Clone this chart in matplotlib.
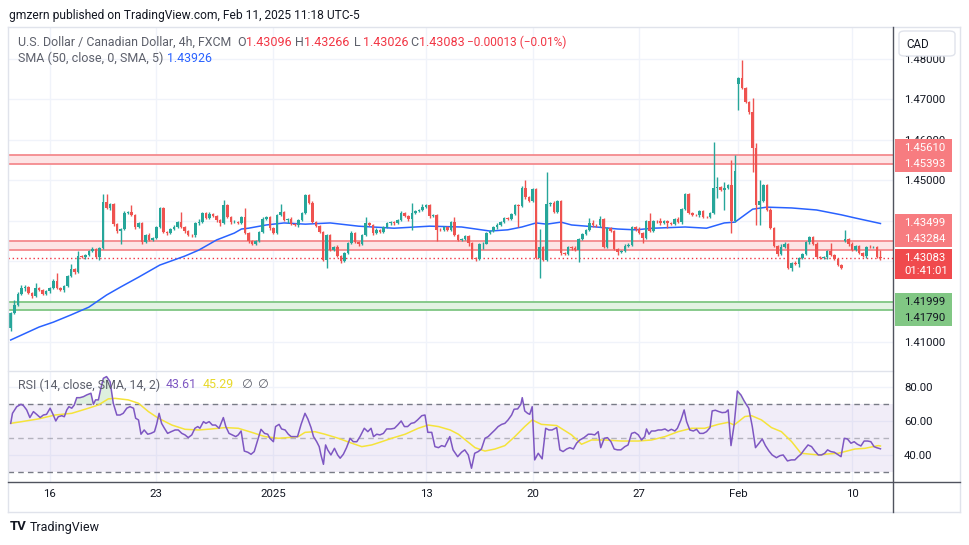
import matplotlib
matplotlib.use('Agg')

import matplotlib.pyplot as plt
from matplotlib.patches import Rectangle, FancyBboxPatch
from matplotlib.lines import Line2D
from matplotlib.transforms import Bbox

W, H = 970, 545

# 4h USD/CAD candles, one entry per bar
first_open = 1.4135
closes = [
    1.4172, 1.4191, 1.4218, 1.4233, 1.4236, 1.4221, 1.4213, 1.4233, 1.4228, 1.4218,
    1.4226, 1.4233, 1.4251, 1.4233, 1.4228, 1.4238, 1.4263, 1.4280, 1.4273, 1.4312,
    1.4310, 1.4315, 1.4325, 1.4330, 1.4310, 1.4332, 1.4446, 1.4431, 1.4441, 1.4391,
    1.4374, 1.4379, 1.4419, 1.4421, 1.4414, 1.4384, 1.4394, 1.4347, 1.4364, 1.4352,
    1.4357, 1.4384, 1.4431, 1.4372, 1.4369, 1.4379, 1.4384, 1.4396, 1.4384, 1.4374,
    1.4364, 1.4363, 1.4394, 1.4396, 1.4419, 1.4406, 1.4416, 1.4411, 1.4401, 1.4394,
    1.4438, 1.4409, 1.4396, 1.4397, 1.4394, 1.4409, 1.4369, 1.4349, 1.4342, 1.4349,
    1.4372, 1.4404, 1.4409, 1.4381, 1.4369, 1.4414, 1.4421, 1.4401, 1.4404, 1.4391,
    1.4389, 1.4401, 1.4419, 1.4463, 1.4443, 1.4396, 1.4386, 1.4372, 1.4302, 1.4364,
    1.4327, 1.4335, 1.4312, 1.4300, 1.4320, 1.4344, 1.4369, 1.4347, 1.4342, 1.4364,
    1.4394, 1.4389, 1.4369, 1.4377, 1.4372, 1.4384, 1.4394, 1.4396, 1.4393, 1.4401,
    1.4419, 1.4411, 1.4404, 1.4418, 1.4423, 1.4426, 1.4433, 1.4438, 1.4411, 1.4414,
    1.4377, 1.4376, 1.4384, 1.4377, 1.4396, 1.4364, 1.4352, 1.4354, 1.4362, 1.4344,
    1.4307, 1.4305, 1.4342, 1.4343, 1.4369, 1.4374, 1.4384, 1.4389, 1.4396, 1.4406,
    1.4404, 1.4416, 1.4438, 1.4437, 1.4480, 1.4458, 1.4448, 1.4478, 1.4307, 1.4335,
    1.4302, 1.4441, 1.4443, 1.4421, 1.4448, 1.4320, 1.4317, 1.4335, 1.4332, 1.4327,
    1.4354, 1.4367, 1.4377, 1.4394, 1.4389, 1.4388, 1.4404, 1.4335, 1.4381, 1.4374,
    1.4330, 1.4322, 1.4325, 1.4337, 1.4340, 1.4384, 1.4379, 1.4369, 1.4357, 1.4399,
    1.4374, 1.4399, 1.4398, 1.4394, 1.4399, 1.4394, 1.4391, 1.4404, 1.4396, 1.4428,
    1.4465, 1.4419, 1.4414, 1.4413, 1.4423, 1.4409, 1.4408, 1.4419, 1.4480, 1.4483,
    1.4475, 1.4480, 1.4488, 1.4399, 1.4522, 1.4752, 1.4727, 1.4693, 1.4668, 1.4579,
    1.4438, 1.4448, 1.4488, 1.4426, 1.4381, 1.4337, 1.4317, 1.4335, 1.4342, 1.4283,
    1.4295, 1.4293, 1.4307, 1.4317, 1.4347, 1.4359, 1.4342, 1.4310, 1.4307, 1.4309,
    1.4325, 1.4315, 1.4305, 1.4290, 1.4283, 1.4354, 1.4342, 1.4327, 1.4337, 1.4320,
    1.4312, 1.4335, 1.4334, 1.4335, 1.43096, 1.43083,
]
# bars that opened after a weekend gap (index: open)
gap_opens = {205: 1.4737, 235: 1.4349}
# wick length above / below the body, in pips
wick_up = [
    3, 12, 5, 8, 6, 3, 3, 12, 3, 3,
    2, 3, 4, 20, 3, 4, 3, 13, 3, 12,
    3, 2, 3, 5, 3, 3, 20, 20, 3, 3,
    3, 2, 4, 3, 18, 3, 3, 2, 3, 4,
    3, 3, 3, 2, 3, 3, 4, 3, 25, 3,
    3, 2, 3, 8, 3, 3, 4, 3, 3, 2,
    12, 3, 3, 4, 3, 3, 23, 3, 2, 3,
    3, 4, 3, 3, 2, 3, 20, 3, 3, 4,
    3, 3, 2, 3, 3, 4, 3, 3, 3, 2,
    3, 3, 4, 3, 3, 3, 5, 3, 2, 3,
    15, 3, 3, 4, 3, 3, 2, 3, 3, 3,
    4, 3, 3, 25, 3, 3, 8, 3, 2, 3,
    3, 4, 3, 3, 3, 12, 3, 2, 3, 3,
    4, 3, 3, 3, 2, 3, 3, 4, 3, 3,
    3, 2, 3, 3, 4, 20, 3, 3, 3, 45,
    3, 79, 3, 4, 3, 3, 2, 3, 3, 4,
    3, 3, 2, 12, 8, 3, 8, 3, 3, 4,
    3, 3, 2, 5, 5, 3, 3, 4, 3, 3,
    20, 3, 3, 8, 3, 2, 3, 3, 4, 3,
    3, 3, 2, 3, 4, 3, 3, 3, 113, 25,
    3, 15, 3, 62, 40, 3, 44, 3, 3, 35,
    12, 52, 3, 3, 4, 3, 2, 8, 5, 3,
    3, 4, 3, 3, 2, 3, 3, 4, 3, 3,
    3, 20, 3, 2, 3, 22, 3, 4, 3, 3,
    2, 3, 4, 3, 3, 17,
]
wick_dn = [
    8, 3, 3, 3, 6, 3, 4, 3, 2, 3,
    3, 4, 3, 3, 2, 5, 3, 3, 4, 3,
    3, 5, 3, 2, 3, 8, 3, 3, 4, 5,
    5, 31, 3, 3, 2, 5, 3, 4, 3, 3,
    2, 3, 3, 4, 5, 3, 3, 2, 3, 5,
    3, 4, 3, 5, 3, 2, 3, 3, 5, 8,
    3, 3, 4, 3, 2, 3, 3, 4, 3, 3,
    2, 3, 3, 4, 3, 3, 2, 3, 8, 3,
    3, 4, 3, 3, 2, 3, 3, 4, 3, 20,
    3, 2, 3, 4, 3, 3, 3, 2, 4, 3,
    3, 3, 4, 2, 3, 3, 3, 4, 3, 2,
    3, 3, 4, 27, 3, 2, 3, 3, 4, 3,
    27, 3, 2, 3, 4, 3, 3, 3, 2, 8,
    3, 4, 3, 12, 2, 3, 3, 4, 3, 3,
    2, 3, 3, 52, 3, 4, 3, 2, 3, 49,
    3, 3, 4, 3, 2, 5, 3, 3, 4, 3,
    30, 3, 2, 3, 4, 3, 3, 3, 2, 3,
    4, 8, 3, 3, 2, 3, 4, 3, 12, 3,
    3, 2, 3, 4, 3, 12, 3, 2, 3, 4,
    3, 3, 2, 3, 4, 3, 3, 2, 3, 25,
    3, 50, 3, 30, 3, 64, 3, 3, 4, 59,
    49, 49, 3, 3, 2, 3, 4, 3, 3, 3,
    8, 3, 8, 2, 3, 4, 3, 3, 2, 3,
    4, 3, 3, 2, 3, 3, 4, 3, 3, 2,
    3, 4, 3, 3, 2, 6,
]

# SMA(50) line, (bar, price)
sma50 = [
    (0, 1.4105), (3, 1.4117), (8, 1.4137), (12, 1.4149), (17, 1.4167), (22, 1.4186),
    (27, 1.4216), (31, 1.4236), (36, 1.4260), (42, 1.4290), (49, 1.4312), (53, 1.4327),
    (58, 1.4352), (63, 1.4369), (65, 1.4379), (67, 1.4381), (72, 1.4389), (77, 1.4394),
    (83, 1.4391), (90, 1.4394), (98, 1.4386), (108, 1.4381), (118, 1.4386), (127, 1.4384),
    (135, 1.4374), (140, 1.4377), (144, 1.4384), (148, 1.4394), (151, 1.4391), (155, 1.4396),
    (158, 1.4389), (165, 1.4384), (171, 1.4379), (176, 1.4377), (181, 1.4381), (190, 1.4384),
    (196, 1.4381), (201, 1.4394), (204, 1.4396), (209, 1.4428), (213, 1.4433), (220, 1.4431),
    (227, 1.4426), (234, 1.4414), (238, 1.4406), (245, 1.43926),
]

# RSI(14), (bar, value)
rsi14 = [
    (0, 58.6), (0.5, 64.5), (1.7, 68.4), (2.9, 69.8), (3.6, 69.0), (4.5, 66.5), (5.4, 62.0),
    (6.4, 65.5), (7.3, 63.9), (8.3, 62.0), (9.2, 63.5), (10.1, 63.9), (11.1, 67.5), (12.0, 63.5),
    (12.7, 60.0), (13.4, 62.5), (14.4, 63.1), (15.1, 62.5), (15.8, 66.5), (16.4, 68.4), (17.2, 67.5),
    (17.9, 69.4), (18.6, 73.7), (19.5, 73.7), (20.5, 74.3), (21.4, 75.3), (22.6, 76.3), (23.3, 69.8),
    (23.9, 72.4), (24.7, 72.4), (25.4, 79.2), (26.1, 85.1), (27.0, 86.1), (28.0, 83.1), (28.9, 70.4),
    (29.9, 63.5), (30.8, 63.5), (31.7, 64.5), (32.7, 67.5), (33.6, 68.4), (34.6, 67.5), (35.2, 61.6),
    (36.0, 60.6), (36.7, 52.2), (37.6, 54.7), (38.6, 52.2), (39.5, 52.7), (40.5, 53.7), (41.1, 58.0),
    (41.8, 64.5), (42.5, 58.6), (43.3, 55.7), (44.2, 52.7), (45.2, 53.7), (46.3, 54.7), (47.2, 54.7),
    (48.2, 52.7), (49.1, 51.8), (50.0, 50.2), (51.0, 51.8), (51.9, 55.7), (52.7, 56.7), (53.3, 55.7),
    (54.3, 59.6), (55.0, 58.6), (55.9, 59.6), (56.8, 57.6), (57.7, 57.6), (58.7, 55.7), (59.9, 62.0),
    (60.6, 56.7), (61.5, 52.7), (62.4, 51.8), (63.4, 50.8), (64.1, 51.8), (64.9, 54.1), (65.8, 42.3),
    (66.8, 41.6), (67.7, 40.4), (68.6, 42.0), (69.6, 48.8), (70.5, 55.1), (71.5, 52.7), (72.4, 52.2),
    (73.0, 49.8), (74.0, 47.8), (74.6, 56.7), (75.6, 58.0), (76.3, 55.3), (77.3, 54.7), (78.2, 52.2),
    (79.0, 50.8), (79.9, 50.8), (80.8, 50.8), (81.8, 58.0), (82.4, 61.6), (82.9, 64.5), (83.7, 61.2),
    (84.6, 56.1), (85.3, 50.8), (86.2, 47.8), (86.9, 44.9), (87.4, 40.0), (88.1, 34.5), (88.7, 45.9),
    (89.3, 43.0), (90.2, 40.0), (91.2, 43.9), (92.1, 40.0), (92.8, 38.1), (93.7, 40.4), (94.6, 44.3),
    (95.6, 49.8), (96.5, 47.8), (97.5, 47.8), (98.4, 50.8), (99.6, 55.7), (100.6, 53.7), (101.5, 55.7),
    (102.2, 50.8), (103.1, 52.2), (104.0, 51.8), (105.0, 52.7), (105.9, 55.3), (107.1, 55.3),
    (108.1, 55.7), (109.0, 57.6), (110.0, 60.0), (110.9, 56.7), (111.8, 56.7), (112.8, 58.6),
    (113.7, 59.0), (114.6, 60.6), (115.8, 63.1), (116.7, 63.5), (117.5, 53.3), (118.6, 53.3),
    (119.5, 44.9), (120.5, 44.3), (121.4, 45.5), (122.3, 44.9), (123.7, 50.8), (124.6, 43.0),
    (125.9, 39.0), (127.0, 41.6), (127.9, 43.0), (128.9, 40.0), (129.8, 32.2), (130.7, 41.0),
    (131.7, 42.0), (132.6, 43.5), (133.6, 49.8), (134.5, 50.8), (135.4, 52.7), (136.4, 54.7),
    (137.3, 56.7), (138.3, 58.0), (139.2, 58.6), (140.1, 60.6), (141.1, 63.5), (141.8, 66.9),
    (142.8, 67.1), (143.7, 69.8), (144.1, 73.7), (144.8, 65.9), (145.6, 64.5), (146.2, 63.9),
    (146.9, 68.4), (147.6, 37.1), (148.6, 41.0), (149.7, 37.7), (150.7, 55.7), (151.6, 54.7),
    (152.5, 54.7), (153.8, 56.1), (154.7, 43.0), (155.6, 42.0), (156.6, 43.5), (157.5, 44.3),
    (158.5, 43.5), (159.4, 46.9), (160.3, 48.8), (161.5, 50.2), (162.7, 52.2), (163.6, 52.2),
    (164.5, 51.8), (165.5, 53.7), (166.2, 44.3), (167.2, 49.8), (168.1, 50.2), (169.1, 47.8),
    (170.0, 43.5), (170.9, 43.0), (171.9, 43.0), (173.0, 44.9), (173.9, 45.9), (174.9, 52.7),
    (175.8, 53.3), (176.8, 51.8), (177.7, 48.8), (178.6, 50.8), (179.1, 55.3), (179.8, 52.2),
    (180.5, 54.1), (181.5, 54.1), (182.4, 54.7), (183.3, 54.7), (184.3, 55.3), (185.2, 54.1),
    (186.1, 55.1), (187.1, 54.1), (187.8, 55.7), (188.8, 60.6), (189.7, 66.5), (190.4, 59.6),
    (191.3, 54.7), (192.3, 54.1), (193.2, 55.1), (194.1, 52.7), (195.1, 52.7), (196.0, 53.7),
    (197.0, 56.1), (197.6, 65.9), (198.5, 66.3), (199.5, 65.5), (200.4, 64.9), (201.4, 65.1),
    (202.1, 66.5), (202.9, 45.5), (203.8, 58.0), (204.7, 77.6), (205.7, 75.3), (206.6, 71.8),
    (207.3, 69.4), (207.9, 67.5), (208.9, 56.7), (209.8, 44.3), (210.8, 46.9), (211.7, 49.4),
    (212.6, 45.5), (213.6, 42.3), (214.5, 40.0), (215.7, 38.4), (216.7, 39.6), (217.6, 40.0),
    (218.8, 36.5), (219.9, 37.1), (220.9, 37.1), (221.8, 39.0), (222.6, 40.4), (223.5, 43.0),
    (224.6, 45.9), (225.6, 44.9), (226.5, 42.3), (227.5, 40.0), (228.4, 40.0), (229.3, 41.0),
    (230.1, 43.0), (231.0, 42.0), (232.0, 41.6), (232.9, 40.4), (233.9, 39.0), (234.8, 49.8),
    (235.7, 49.4), (236.7, 46.9), (237.6, 47.8), (238.5, 46.3), (239.5, 45.3), (240.4, 48.2),
    (241.4, 48.2), (242.3, 47.8), (243.2, 44.9), (243.9, 44.3), (244.6, 43.9), (245, 43.61),
]

# SMA(14) of the RSI
rsi_ma = [
    (0, 58.6), (3.1, 59.6), (7.8, 61.2), (12.5, 63.5), (17.2, 64.5), (21.9, 67.5), (24.7, 69.4),
    (27.5, 73.0), (29.4, 73.3), (33.1, 72.4), (36.0, 70.4), (38.8, 65.5), (41.6, 61.6), (45.4, 57.6),
    (49.1, 55.1), (52.9, 54.7), (56.6, 55.3), (60.4, 56.1), (64.1, 55.7), (67.9, 53.3), (71.6, 50.8),
    (75.4, 49.8), (79.2, 50.4), (81.0, 50.8), (82.9, 53.3), (85.7, 53.7), (88.5, 52.2), (92.3, 49.8),
    (96.1, 46.9), (98.9, 44.9), (101.7, 45.9), (104.5, 47.8), (107.3, 49.8), (111.1, 52.2),
    (114.8, 55.7), (117.6, 57.6), (120.5, 56.7), (123.8, 54.7), (126.1, 52.2), (130.8, 44.3),
    (133.6, 42.3), (136.4, 43.5), (139.2, 45.5), (142.0, 50.8), (144.8, 56.7), (146.9, 60.6),
    (149.5, 58.0), (153.8, 57.3), (158.0, 51.8), (160.8, 46.3), (163.6, 48.8), (167.4, 48.8),
    (172.1, 48.2), (176.8, 48.2), (180.5, 48.8), (184.3, 50.8), (188.0, 53.7), (191.8, 55.7),
    (195.5, 55.7), (199.3, 58.0), (202.1, 59.2), (203.8, 57.6), (206.8, 62.6), (208.7, 63.1),
    (211.5, 60.6), (214.3, 56.1), (217.1, 53.7), (220.0, 47.8), (222.6, 41.0), (224.6, 40.6),
    (227.5, 40.0), (230.3, 40.6), (233.1, 41.0), (235.0, 42.0), (237.8, 43.5), (240.6, 43.9),
    (244.4, 45.5), (245, 45.29),
]

date_ticks = [11, 41, 74, 117, 147, 177, 205, 237]
date_labels = ['16', '23', '2025', '13', '20', '27', 'Feb', '10']
price_ticks = [1.41, 1.42, 1.43, 1.44, 1.45, 1.46, 1.47, 1.48]
rsi_ticks = [40, 60, 80]

zone_top = (1.45393, 1.45610)
zone_mid = (1.43284, 1.43499)
zone_low = (1.41790, 1.41999)
last_price = 1.43083
countdown = '01:41:01'
ohlc = [('O', 1.43096), ('H', 1.43266), ('L', 1.43026), ('C', 1.43083)]
change = '\u22120.00013 (\u22120.01%)'
sma_last = 1.43926
rsi_last, rsi_ma_last = 43.61, 45.29

GREEN, RED = '#26a69a', '#ef5350'
plt.rcParams['font.family'] = ['Roboto', 'DejaVu Sans']

fig = plt.figure(figsize=(W / 100, H / 100), dpi=100)


def fbox(x0, y0, x1, y1):
    # pixel box (top-left origin) -> figure fractions
    return [x0 / W, 1 - y1 / H, (x1 - x0) / W, (y1 - y0) / H]


def ptext(x, y, s, **kw):
    kw.setdefault('va', 'center')
    return fig.text(x / W, 1 - y / H, s, **kw)


ax = fig.add_axes(fbox(8, 27, 893, 370))
rx = fig.add_axes(fbox(8, 372, 893, 482), sharex=ax)
PX = 3.55  # pixels per bar
ax.set_xlim((8 - 10.7) / PX, (893 - 10.7) / PX)
ax.set_ylim(1.40309, 1.48778)
rx.set_ylim(24.1, 88.8)

for a in (ax, rx):
    for s in a.spines.values():
        s.set_visible(False)
    a.set_axisbelow(True)
    a.grid(True, color='#f0f3fa', lw=1)
    a.yaxis.tick_right()

# candles
n = len(closes)
xs = list(range(n))
opens = [first_open] + closes[:-1]
for i, v in gap_opens.items():
    opens[i] = v
tops = [max(o, c) for o, c in zip(opens, closes)]
bots = [min(o, c) for o, c in zip(opens, closes)]
highs = [t + u * 1e-4 for t, u in zip(tops, wick_up)]
lows = [b - d * 1e-4 for b, d in zip(bots, wick_dn)]
cols = [GREEN if c >= o else RED for o, c in zip(opens, closes)]
ax.vlines(xs, lows, highs, colors=cols, lw=1, zorder=3)
ax.bar(xs, [max(t - b, 0.00005) for t, b in zip(tops, bots)], bottom=bots,
       width=0.72, color=cols, linewidth=0, zorder=4)

# zones and last price
for (lo, hi), fill, edge in [(zone_top, '#fde4e5', '#f48a8e'),
                             (zone_mid, '#fde4e5', '#f48a8e'),
                             (zone_low, '#e3f2e3', '#7fc683')]:
    ax.axhspan(lo, hi, color=fill, lw=0, zorder=1)
    ax.axhline(lo, color=edge, lw=1.3, zorder=1.5)
    ax.axhline(hi, color=edge, lw=1.3, zorder=1.5)
ax.axhline(last_price, color='#f23645', lw=1, ls=(0, (1, 2)), zorder=2)

sx, sy = zip(*sma50)
ax.plot(sx, sy, color='#2962ff', lw=1.1, zorder=2.5)

ax.set_xticks(date_ticks)
ax.tick_params(axis='x', length=0, labelbottom=False)
ax.set_yticks(price_ticks)
ax.tick_params(axis='y', length=0, pad=8, labelsize=8.2, labelcolor='#131722')

# RSI pane
rx.axhspan(30, 70, color='#7e57c2', alpha=0.1, lw=0)
for lvl, al in [(70, 1), (30, 1), (50, 0.5)]:
    rx.axhline(lvl, color='#787b86', alpha=al, lw=1, ls=(0, (4, 3)))
rsx, rsy = zip(*rsi14)
rx.fill_between(rsx, 70, rsy, where=[v > 70 for v in rsy], interpolate=True,
                color='#4caf50', alpha=0.18, lw=0)
rx.plot(rsx, rsy, color='#7e57c2', lw=1.1, zorder=3)
mx, my = zip(*rsi_ma)
rx.plot(mx, my, color='#f5e33a', lw=1.1, zorder=2.8)
rx.set_yticks(rsi_ticks)
rx.set_yticklabels([f'{v:.2f}' for v in rsi_ticks])
rx.tick_params(axis='y', length=0, pad=8, labelsize=8.2, labelcolor='#131722')
rx.set_xticks(date_ticks)
rx.set_xticklabels(date_labels)
rx.tick_params(axis='x', length=0, pad=5, labelsize=8.2, labelcolor='#131722')

# frame lines
for x0, y0, x1, y1, c in [(8, 27, 960, 27, '#e0e3eb'), (8, 27, 8, 512, '#e0e3eb'),
                          (960, 27, 960, 512, '#e0e3eb'), (8, 512, 960, 512, '#e0e3eb'),
                          (8, 371, 893, 371, '#e0e3eb'),
                          (893, 27, 893, 512, '#50535e'), (8, 482, 960, 482, '#50535e')]:
    fig.add_artist(Line2D([x0 / W, x1 / W], [1 - y0 / H, 1 - y1 / H], color=c, lw=1))

# currency button
fig.add_artist(FancyBboxPatch((899 / W, 1 - 56 / H), 56 / W, 25 / H,
                              boxstyle='round,pad=0,rounding_size=0.006',
                              fc='white', ec='#e0e3eb', lw=1, zorder=3))
ptext(918, 44, 'CAD', ha='center', size=8.4, color='#131722', zorder=4)


# price-scale tags, stacked next to their price levels
def price_y(p):
    return H - ax.transData.transform((0, p))[1]


tags = [
    ([zone_top[1], zone_top[0]], -7, 16, '#f77c80', 'white'),
    ([zone_mid[1], zone_mid[0]], -18, 16, '#f77c80', 'white'),
    ([last_price, countdown], 0, 13, '#f04a4d', 'white'),
    ([zone_low[1], zone_low[0]], 0, 16, '#81c784', '#131722'),
]
covered = []
for rows, shift, step, fc, tc in tags:
    y0 = price_y(rows[0]) + shift
    y1 = y0 + step * (len(rows) - 1)
    top, bot = y0 - 9, y1 + 8
    covered.append((top, bot))
    fig.add_artist(Rectangle((895 / W, 1 - bot / H), 57 / W, (bot - top) / H,
                             fc=fc, ec='none', zorder=3))
    for k, r in enumerate(rows):
        s = r if isinstance(r, str) else f'{r:.5f}'
        ptext(904, y0 + k * step, s, size=8.2, color=tc, zorder=4)

# scale labels under a tag: hidden when fully covered, cut off when partly covered
ax.set_yticklabels([f'{p:.5f}' for p in price_ticks])
for p, lab in zip(price_ticks, ax.get_yticklabels()):
    yp = price_y(p)
    for t, b in covered:
        if t <= yp - 5 and yp + 5 <= b:
            lab.set_visible(False)
        elif t < yp + 6 and yp - 6 < b:
            lab.set_clip_box(Bbox([[880, H - t], [W, H]]))
            lab.set_clip_on(True)

# legend texts
GREY = '#5d606b'
ptext(9, 15.5, 'gmzern published on TradingView.com, Feb 11, 2025 11:18 UTC-5', size=8.65, color='#131722')
ptext(18, 42, 'U.S. Dollar / Canadian Dollar, 4h, FXCM', size=8.9, color=GREY)
for (lab, val), x in zip(ohlc, [237, 295, 354, 410]):
    ptext(x, 42, lab, size=9.0, color=GREY)
    ptext(x + 9, 42, f'{val:.5f}', size=9.0, color='#f23645')
ptext(467, 42, change, size=8.6, color='#f23645')
ptext(18, 58, 'SMA (50, close, 0, SMA, 5)', size=9.0, color=GREY)
ptext(167, 58, f'{sma_last:.5f}', size=8.9, color='#2962ff')
ptext(18, 385, 'RSI (14, close, SMA, 14, 2)', size=8.9, color=GREY)
ptext(166, 385, f'{rsi_last:.2f}', size=8.9, color='#7e57c2')
ptext(203, 385, f'{rsi_ma_last:.2f}', size=8.9, color='#e8d92a')
ptext(241, 385, '\u2205', size=8.9, color=GREY)
ptext(257, 385, '\u2205', size=8.9, color=GREY)

ptext(10, 527, 'TV', size=9.5, weight='bold', color='#131722')
ptext(30, 527, 'TradingView', size=9.0, color='#131722')

fig.savefig('out.png', dpi=100, facecolor='white')
